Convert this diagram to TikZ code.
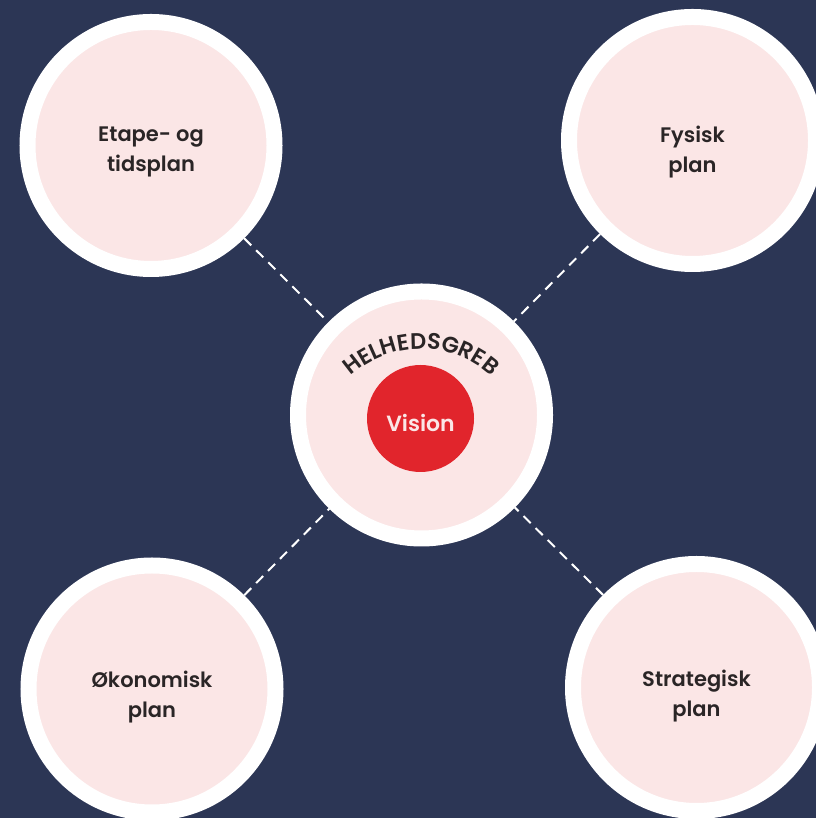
\documentclass[tikz,border=0pt]{standalone}
\usepackage{fontspec}
\setmainfont{Poppins}
\newfontfamily\popsemi{Poppins SemiBold}
\usetikzlibrary{decorations.text}
\definecolor{navy}{HTML}{2C3655}
\definecolor{blush}{HTML}{FBE6E6}
\definecolor{visionred}{HTML}{E1252C}
\definecolor{ink}{HTML}{2A2526}

\begin{document}
\begin{tikzpicture}[x=1pt, y=1pt,
  planbox/.style={circle, draw=white, line width=16pt, fill=blush, minimum size=247pt, inner sep=0pt},
  planlabel/.style={font=\popsemi\fontsize{21}{30}\selectfont, text=ink, align=center},
  link/.style={draw=white, line width=2pt, dash pattern=on 10pt off 7pt}]
\fill[navy] (0,0) rectangle (816,818);
\useasboundingbox (0,0) rectangle (816,818);

% the five circles
\node[planbox] (etape) at (151,672.5) {};
\node[planbox] (fysisk) at (692.5,677.5) {};
\node[planbox] (oekonomi) at (152,129) {};
\node[planbox] (strategi) at (696.5,130.5) {};
\node[planbox] (helhed) at (421.5,403) {};

% dashed links to the middle
\draw[link] (etape) -- (helhed);
\draw[link] (fysisk) -- (helhed);
\draw[link] (oekonomi) -- (helhed);
\draw[link] (strategi) -- (helhed);

\node[planlabel] (etapetxt) at ([yshift=-6pt]etape.center) {Etape- og\\tidsplan};
\node[planlabel] (fysisktxt) at ([yshift=-12pt]fysisk.center) {Fysisk\\plan};
\node[planlabel] (oekonomitxt) at ([yshift=-8pt]oekonomi.center) {Økonomisk\\plan};
\node[planlabel] (strategitxt) at ([yshift=-9pt]strategi.center) {Strategisk\\plan};

% vision in the middle
\node[circle, fill=visionred, minimum size=107pt, inner sep=0pt] (vision) at (420.5,399.5) {};
\node[font=\popsemi\fontsize{22}{22}\selectfont, text=blush] (visiontxt) at ([yshift=-4pt]vision.center) {Vision};

\coordinate (arcc) at (421,364);
\path[decorate, decoration={text along path, text align=center,
  text={|\popsemi\fontsize{22.5}{22.5}\selectfont\color{ink}|HELHEDSGREB}}]
  (arcc) ++(150:105) arc[start angle=150, end angle=30, radius=105];
\end{tikzpicture}
\end{document}
